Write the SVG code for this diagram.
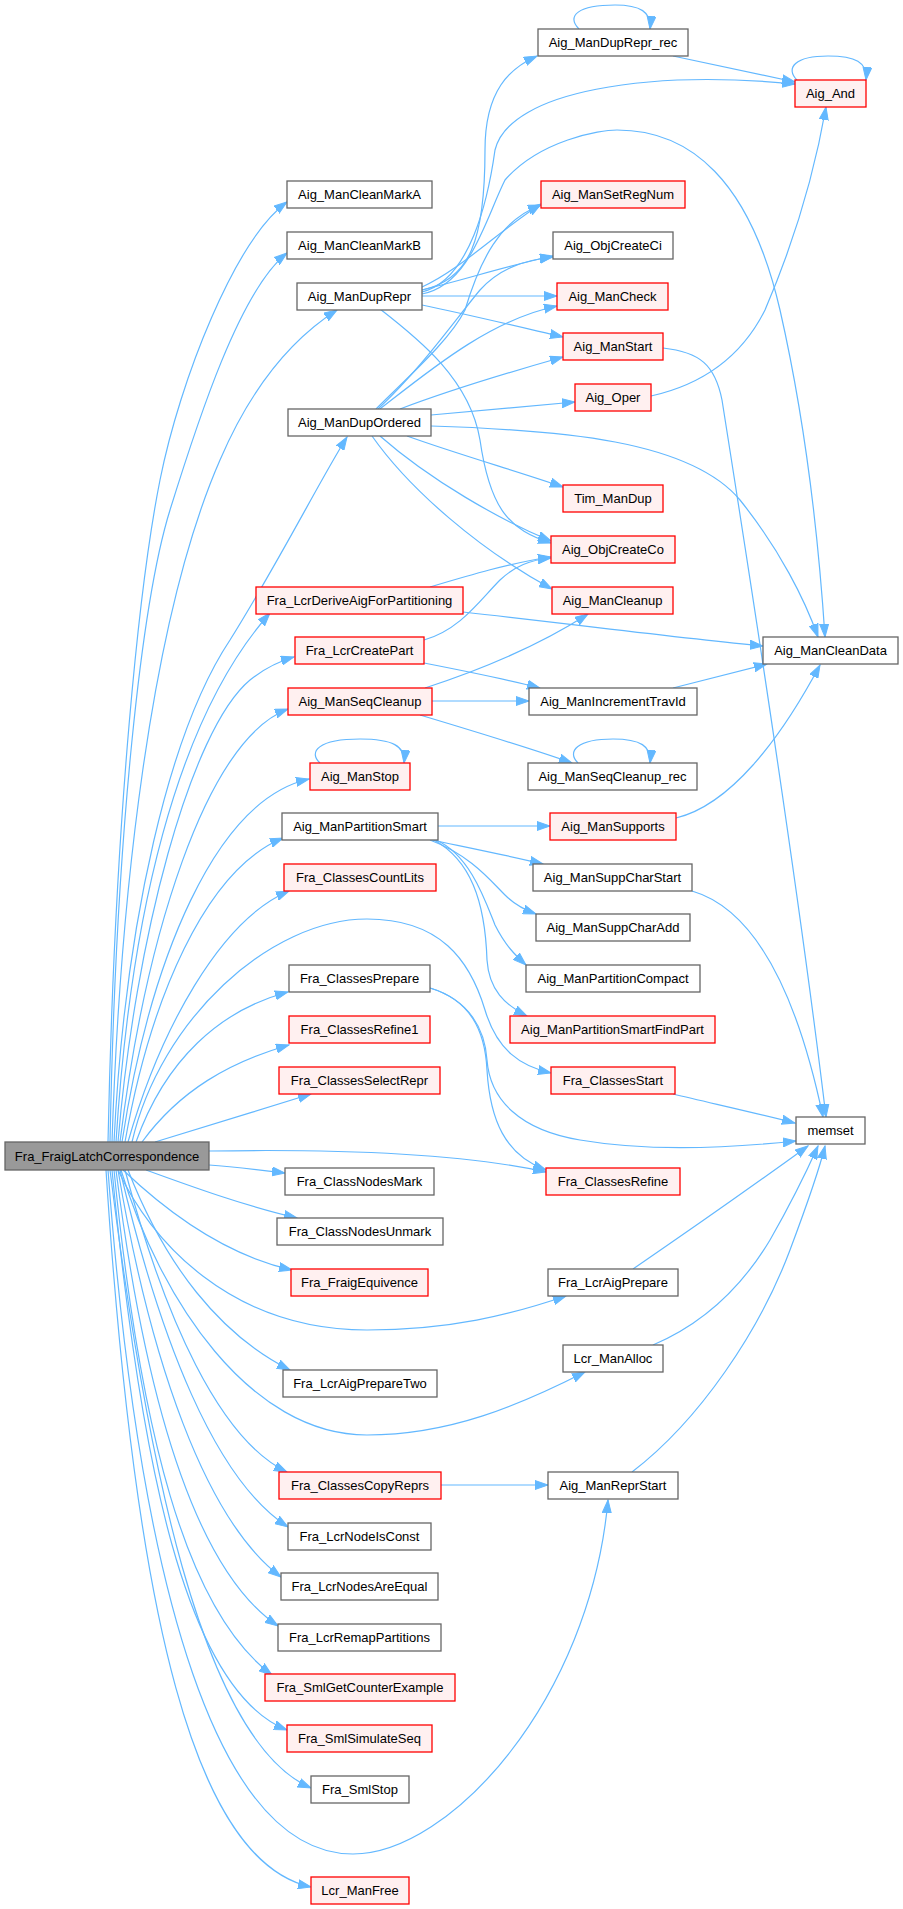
<svg xmlns="http://www.w3.org/2000/svg" width="903" height="1909" viewBox="0 0 903 1909">
<style>
.e{fill:none;stroke:#63b8ff;stroke-width:1.2;marker-end:url(#ah)}
.g rect{fill:#ffffff;stroke:#666666;stroke-width:1.3}
.r rect{fill:#fff0f0;stroke:#ff0000;stroke-width:1.3}
.m rect{fill:#999999;stroke:#666666;stroke-width:1.3}
text{font-family:"Liberation Sans",Arial,sans-serif;font-size:13px;fill:#000000;text-anchor:middle}
</style>
<defs>
<marker id="ah" markerWidth="14" markerHeight="10" refX="13" refY="5" orient="auto" markerUnits="userSpaceOnUse">
<path d="M0,0.5 L13,5 L0,9.5 z" fill="#63b8ff" stroke="#63b8ff" stroke-width="1"/>
</marker>
</defs>
<rect width="903" height="1909" fill="#ffffff"/>
<g id="edges">
<path class="e" d="M108,1142 C115,810 140,580 160,480 S235,240 287,202"/>
<path class="e" d="M110,1142 C116,830 142,600 170,510 S240,290 287,253"/>
<path class="e" d="M112,1142 C120,900 150,620 220,460 C250,390 290,340 337,310"/>
<path class="e" d="M114,1142 C125,920 170,730 230,640 C280,560 320,480 347,437"/>
<path class="e" d="M116,1142 C130,920 175,720 270,613"/>
<path class="e" d="M118,1142 C135,940 190,730 250,680 C265,668 280,661 294,657"/>
<path class="e" d="M120,1142 C145,940 205,740 288,709"/>
<path class="e" d="M122,1142 C150,960 215,800 309,779"/>
<path class="e" d="M125,1142 C150,1000 205,870 283,838"/>
<path class="e" d="M128,1142 C160,1030 220,920 289,891"/>
<path class="e" d="M132,1142 C160,1020 270,919 367,919 C440,919 470,960 485,1010 C497,1050 520,1066 551,1073"/>
<path class="e" d="M136,1142 C165,1060 220,1010 288,992"/>
<path class="e" d="M142,1142 C180,1090 230,1062 289,1045"/>
<path class="e" d="M155,1142 C200,1128 260,1110 311,1094"/>
<path class="e" d="M209,1151 C330,1149 460,1153 546,1172"/>
<path class="e" d="M209,1165 C235,1167 260,1170 285,1173"/>
<path class="e" d="M146,1170 C190,1186 245,1206 297,1218"/>
<path class="e" d="M123,1170 C165,1210 225,1255 292,1270"/>
<path class="e" d="M118,1170 C150,1240 230,1330 367,1330 C450,1330 510,1315 566,1296"/>
<path class="e" d="M128,1170 C165,1265 220,1335 290,1370"/>
<path class="e" d="M121,1170 C160,1300 250,1435 367,1435 C450,1435 520,1405 585,1372"/>
<path class="e" d="M125,1170 C165,1320 220,1440 287,1472"/>
<path class="e" d="M120,1170 C160,1340 215,1480 288,1527"/>
<path class="e" d="M118,1170 C150,1360 205,1520 281,1577"/>
<path class="e" d="M116,1170 C145,1400 195,1570 278,1626"/>
<path class="e" d="M114,1170 C140,1430 185,1610 272,1675"/>
<path class="e" d="M112,1170 C140,1460 185,1690 287,1730"/>
<path class="e" d="M110,1170 C145,1450 200,1740 311,1788"/>
<path class="e" d="M108,1170 C140,1600 220,1854 353,1854 C450,1854 590,1700 608,1500"/>
<path class="e" d="M106,1170 C135,1620 195,1862 311,1887"/>
<path class="e" d="M422,290 C470,280 485,240 485,150 C485,90 510,68 537,56"/>
<path class="e" d="M422,292 C470,280 488,200 495,150 C510,90 650,70 795,84"/>
<path class="e" d="M422,294 C470,285 485,220 505,180 C540,140 600,130 617,130 C690,130 750,180 780,310 C805,420 818,530 825,637"/>
<path class="e" d="M422,287 C460,270 500,230 541,204"/>
<path class="e" d="M422,290 C470,278 510,265 553,256"/>
<path class="e" d="M422,296 L557,296"/>
<path class="e" d="M422,305 C470,315 520,327 563,337"/>
<path class="e" d="M380,309 C420,340 470,380 480,440 C490,510 510,530 551,543"/>
<path class="e" d="M376,409 C410,375 450,340 465,310 C480,260 500,220 541,205"/>
<path class="e" d="M378,409 C420,370 455,320 480,290 C500,268 525,260 553,257"/>
<path class="e" d="M380,409 C430,370 490,320 557,306"/>
<path class="e" d="M400,409 C450,390 510,372 563,357"/>
<path class="e" d="M431,415 L575,402"/>
<path class="e" d="M431,426 C560,430 690,440 740,500 C780,550 805,600 818,637"/>
<path class="e" d="M407,436 C460,455 520,472 563,487"/>
<path class="e" d="M380,436 C430,480 500,520 551,541"/>
<path class="e" d="M372,436 C410,490 480,550 552,589"/>
<path class="e" d="M430,587 C470,575 510,563 551,557"/>
<path class="e" d="M463,612 C580,625 680,638 763,646"/>
<path class="e" d="M424,640 C460,630 480,600 500,580 C515,566 530,560 551,558"/>
<path class="e" d="M424,663 C470,672 510,680 540,688"/>
<path class="e" d="M425,688 C480,670 540,645 588,614"/>
<path class="e" d="M432,701 L529,701"/>
<path class="e" d="M420,715 C470,730 530,748 572,763"/>
<path class="e" d="M673,688 L767,664"/>
<path class="e" d="M438,826 L550,826"/>
<path class="e" d="M432,840 C470,848 510,856 543,864"/>
<path class="e" d="M430,840 C470,855 490,880 505,895 C515,905 525,910 536,914"/>
<path class="e" d="M436,840 C470,855 485,900 495,925 C505,945 515,955 526,965"/>
<path class="e" d="M434,840 C470,860 485,900 487,960 C489,990 505,1005 527,1016"/>
<path class="e" d="M676,818 C730,805 780,740 820,665"/>
<path class="e" d="M692,891 C740,905 790,960 823,1117"/>
<path class="e" d="M663,348 C700,352 715,365 722,400 C760,640 800,900 826,1117"/>
<path class="e" d="M673,1094 C715,1104 760,1114 795,1123"/>
<path class="e" d="M430,988 C470,1000 485,1030 487,1060 C490,1100 520,1130 580,1140 C650,1152 730,1148 796,1141"/>
<path class="e" d="M430,988 C470,1000 485,1030 487,1070 C490,1120 505,1155 546,1170"/>
<path class="e" d="M633,1269 C690,1230 750,1188 808,1146"/>
<path class="e" d="M653,1345 C700,1325 740,1290 770,1240 C790,1205 805,1175 818,1146"/>
<path class="e" d="M632,1472 C700,1420 760,1330 790,1250 C805,1210 818,1175 825,1146"/>
<path class="e" d="M673,56 L795,82"/>
<path class="e" d="M651,396 C700,385 740,360 765,310 C795,240 815,170 826,107"/>
<path class="e" d="M441,1485 L548,1485"/>
<path class="e" d="M579,29 C566,16 578,5 615,5 C640,5 652,12 650,29"/>
<path class="e" d="M797,80 C785,68 795,56 828,56 C855,56 868,62 866,80"/>
<path class="e" d="M320,763 C308,752 318,739 360,739 C392,739 406,746 404,763"/>
<path class="e" d="M578,763 C566,751 578,739 613,739 C640,739 652,746 650,763"/>
</g>
<g id="n_main" class="m"><rect x="5" y="1142" width="204" height="28"/><text x="107" y="1161">Fra_FraigLatchCorrespondence</text></g>
<g id="n_markA" class="g"><rect x="287" y="181" width="145" height="27"/><text x="359.5" y="199">Aig_ManCleanMarkA</text></g>
<g id="n_markB" class="g"><rect x="287" y="232" width="145" height="27"/><text x="359.5" y="250">Aig_ManCleanMarkB</text></g>
<g id="n_duprepr" class="g"><rect x="297" y="283" width="125" height="27"/><text x="359.5" y="301">Aig_ManDupRepr</text></g>
<g id="n_dupordered" class="g"><rect x="288" y="409" width="143" height="27"/><text x="359.5" y="427">Aig_ManDupOrdered</text></g>
<g id="n_derive" class="r"><rect x="256" y="587" width="207" height="27"/><text x="359.5" y="605">Fra_LcrDeriveAigForPartitioning</text></g>
<g id="n_createpart" class="r"><rect x="295" y="637" width="129" height="27"/><text x="359.5" y="655">Fra_LcrCreatePart</text></g>
<g id="n_seqcleanup" class="r"><rect x="288" y="688" width="144" height="27"/><text x="360" y="706">Aig_ManSeqCleanup</text></g>
<g id="n_manstop" class="r"><rect x="310" y="763" width="100" height="27"/><text x="360" y="781">Aig_ManStop</text></g>
<g id="n_partsmart" class="g"><rect x="282" y="813" width="156" height="27"/><text x="360" y="831">Aig_ManPartitionSmart</text></g>
<g id="n_countlits" class="r"><rect x="284" y="864" width="152" height="27"/><text x="360" y="882">Fra_ClassesCountLits</text></g>
<g id="n_clprepare" class="g"><rect x="289" y="965" width="141" height="27"/><text x="359.5" y="983">Fra_ClassesPrepare</text></g>
<g id="n_clrefine1" class="r"><rect x="289" y="1016" width="141" height="27"/><text x="359.5" y="1034">Fra_ClassesRefine1</text></g>
<g id="n_selrepr" class="r"><rect x="279" y="1067" width="161" height="27"/><text x="359.5" y="1085">Fra_ClassesSelectRepr</text></g>
<g id="n_cnmark" class="g"><rect x="285" y="1168" width="149" height="27"/><text x="359.5" y="1186">Fra_ClassNodesMark</text></g>
<g id="n_cnunmark" class="g"><rect x="277" y="1218" width="166" height="27"/><text x="360" y="1236">Fra_ClassNodesUnmark</text></g>
<g id="n_fequiv" class="r"><rect x="291" y="1269" width="137" height="27"/><text x="359.5" y="1287">Fra_FraigEquivence</text></g>
<g id="n_prep2" class="g"><rect x="283" y="1370" width="154" height="27"/><text x="360" y="1388">Fra_LcrAigPrepareTwo</text></g>
<g id="n_copyreprs" class="r"><rect x="279" y="1472" width="162" height="27"/><text x="360" y="1490">Fra_ClassesCopyReprs</text></g>
<g id="n_isconst" class="g"><rect x="288" y="1523" width="143" height="27"/><text x="359.5" y="1541">Fra_LcrNodeIsConst</text></g>
<g id="n_areequal" class="g"><rect x="281" y="1573" width="157" height="27"/><text x="359.5" y="1591">Fra_LcrNodesAreEqual</text></g>
<g id="n_remap" class="g"><rect x="278" y="1624" width="163" height="27"/><text x="359.5" y="1642">Fra_LcrRemapPartitions</text></g>
<g id="n_cex" class="r"><rect x="265" y="1674" width="190" height="27"/><text x="360" y="1692">Fra_SmlGetCounterExample</text></g>
<g id="n_simseq" class="r"><rect x="287" y="1725" width="145" height="27"/><text x="359.5" y="1743">Fra_SmlSimulateSeq</text></g>
<g id="n_smlstop" class="g"><rect x="311" y="1776" width="98" height="27"/><text x="360" y="1794">Fra_SmlStop</text></g>
<g id="n_lcrfree" class="r"><rect x="311" y="1877" width="98" height="27"/><text x="360" y="1895">Lcr_ManFree</text></g>
<g id="n_duprec" class="g"><rect x="538" y="29" width="150" height="27"/><text x="613" y="47">Aig_ManDupRepr_rec</text></g>
<g id="n_setregnum" class="r"><rect x="541" y="181" width="144" height="27"/><text x="613" y="199">Aig_ManSetRegNum</text></g>
<g id="n_createci" class="g"><rect x="553" y="232" width="120" height="27"/><text x="613" y="250">Aig_ObjCreateCi</text></g>
<g id="n_mancheck" class="r"><rect x="557" y="283" width="111" height="27"/><text x="612.5" y="301">Aig_ManCheck</text></g>
<g id="n_manstart" class="r"><rect x="563" y="333" width="100" height="27"/><text x="613" y="351">Aig_ManStart</text></g>
<g id="n_oper" class="r"><rect x="575" y="384" width="76" height="27"/><text x="613" y="402">Aig_Oper</text></g>
<g id="n_timdup" class="r"><rect x="563" y="485" width="100" height="27"/><text x="613" y="503">Tim_ManDup</text></g>
<g id="n_createco" class="r"><rect x="551" y="536" width="124" height="27"/><text x="613" y="554">Aig_ObjCreateCo</text></g>
<g id="n_cleanup" class="r"><rect x="552" y="587" width="121" height="27"/><text x="612.5" y="605">Aig_ManCleanup</text></g>
<g id="n_travid" class="g"><rect x="529" y="688" width="168" height="27"/><text x="613" y="706">Aig_ManIncrementTravId</text></g>
<g id="n_seqrec" class="g"><rect x="528" y="763" width="169" height="27"/><text x="612.5" y="781">Aig_ManSeqCleanup_rec</text></g>
<g id="n_supports" class="r"><rect x="550" y="813" width="126" height="27"/><text x="613" y="831">Aig_ManSupports</text></g>
<g id="n_scstart" class="g"><rect x="533" y="864" width="159" height="27"/><text x="612.5" y="882">Aig_ManSuppCharStart</text></g>
<g id="n_scadd" class="g"><rect x="536" y="914" width="154" height="27"/><text x="613" y="932">Aig_ManSuppCharAdd</text></g>
<g id="n_pcompact" class="g"><rect x="526" y="965" width="174" height="27"/><text x="613" y="983">Aig_ManPartitionCompact</text></g>
<g id="n_findpart" class="r"><rect x="510" y="1016" width="205" height="27"/><text x="612.5" y="1034">Aig_ManPartitionSmartFindPart</text></g>
<g id="n_clstart" class="r"><rect x="551" y="1067" width="124" height="27"/><text x="613" y="1085">Fra_ClassesStart</text></g>
<g id="n_clrefine" class="r"><rect x="546" y="1168" width="134" height="27"/><text x="613" y="1186">Fra_ClassesRefine</text></g>
<g id="n_aigprep" class="g"><rect x="548" y="1269" width="130" height="27"/><text x="613" y="1287">Fra_LcrAigPrepare</text></g>
<g id="n_lcralloc" class="g"><rect x="563" y="1345" width="100" height="27"/><text x="613" y="1363">Lcr_ManAlloc</text></g>
<g id="n_reprstart" class="g"><rect x="548" y="1472" width="130" height="27"/><text x="613" y="1490">Aig_ManReprStart</text></g>
<g id="n_and" class="r"><rect x="795" y="80" width="71" height="27"/><text x="830.5" y="98">Aig_And</text></g>
<g id="n_cleandata" class="g"><rect x="763" y="637" width="135" height="27"/><text x="830.5" y="655">Aig_ManCleanData</text></g>
<g id="n_memset" class="g"><rect x="796" y="1117" width="69" height="27"/><text x="830.5" y="1135">memset</text></g>
</svg>
